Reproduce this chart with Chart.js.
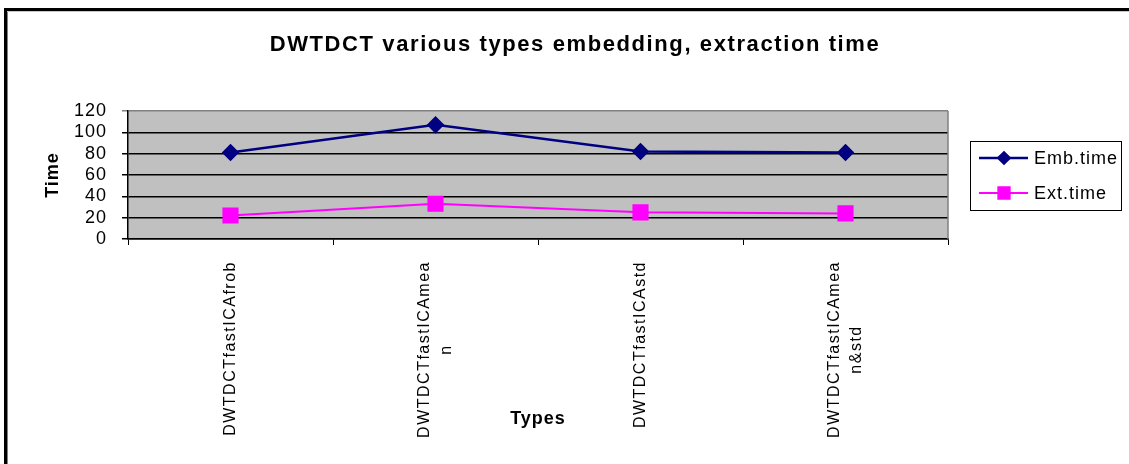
<!DOCTYPE html>
<html>
<head>
<meta charset="utf-8">
<script src="https://cdn.jsdelivr.net/npm/chart.js@4/dist/chart.umd.min.js"></script>
<style>
  html, body { margin: 0; padding: 0; background: #fff; }
  #wrap { position: relative; width: 1129px; height: 464px; }
  canvas { display: block; }
</style>
</head>
<body>
<div id="wrap"><canvas id="c" width="1129" height="464"></canvas></div>
<script>
const chartTitle = 'DWTDCT various types embedding, extraction time';
const categories = [
  ['DWTDCTfastICAfrob'],
  ['DWTDCTfastICAmea', 'n'],
  ['DWTDCTfastICAstd'],
  ['DWTDCTfastICAmea', 'n&std']
];
const embTime = [81, 107, 82, 81];
const extTime = [22, 33, 25, 24];
const yTicks = [0, 20, 40, 60, 80, 100, 120];
const seriesNames = ['Emb.time', 'Ext.time'];
const xTitle = 'Types';
const yTitle = 'Time';

const FONT = "'Liberation Sans', Arial, sans-serif";

const decorPlugin = {
  id: 'decor',
  beforeDraw(chart) {
    const ctx = chart.ctx;
    const a = chart.chartArea;
    ctx.save();
    ctx.fillStyle = '#ffffff';
    ctx.fillRect(0, 0, chart.width, chart.height);
    ctx.fillStyle = '#c0c0c0';
    ctx.fillRect(a.left, a.top, a.right - a.left, a.bottom - a.top);
    ctx.restore();
    ctx.letterSpacing = '1px';
  },
  afterDraw(chart) {
    const ctx = chart.ctx;
    const a = chart.chartArea;
    const xs = chart.scales.x;
    ctx.save();
    // right plot border
    ctx.strokeStyle = '#808080';
    ctx.lineWidth = 1.5;
    ctx.beginPath();
    ctx.moveTo(a.right, a.top);
    ctx.lineTo(a.right, a.bottom);
    ctx.stroke();

    // x tick labels (rotated, lines centered)
    ctx.fillStyle = '#000';
    ctx.font = '16px ' + FONT;
    ctx.letterSpacing = '1.5px';
    ctx.textAlign = 'center';
    ctx.textBaseline = 'middle';
    const lh = 22;
    categories.forEach((lines, i) => {
      const x = xs.getPixelForTick(i);
      let w = 0;
      lines.forEach(l => { w = Math.max(w, ctx.measureText(l).width); });
      ctx.save();
      ctx.translate(x, a.bottom + 22);
      ctx.rotate(-Math.PI / 2);
      lines.forEach((l, j) => {
        ctx.fillText(l, -w / 2, (j - (lines.length - 1) / 2) * lh);
      });
      ctx.restore();
    });

    // title
    ctx.font = 'bold 22px ' + FONT;
    ctx.letterSpacing = '1.6px';
    ctx.textAlign = 'center';
    ctx.textBaseline = 'middle';
    ctx.fillText(chartTitle, 575, 45);

    // legend
    const lx = 970, ly = 141, lw = 151, lhh = 69;
    ctx.strokeStyle = '#000';
    ctx.lineWidth = 1;
    ctx.strokeRect(lx + 0.5, ly + 0.5, lw, lhh);
    ctx.font = '18px ' + FONT;
    ctx.letterSpacing = '1px';
    ctx.textAlign = 'left';
    chart.data.datasets.forEach((ds, i) => {
      const y = ly + 17 + i * 35;
      ctx.strokeStyle = ds.borderColor;
      ctx.lineWidth = ds.borderWidth;
      ctx.beginPath();
      ctx.moveTo(979, y);
      ctx.lineTo(1028, y);
      ctx.stroke();
      ctx.fillStyle = ds.pointBackgroundColor;
      ctx.strokeStyle = ds.pointBorderColor;
      Chart.helpers.drawPoint(ctx, {
        pointStyle: ds.pointStyle,
        rotation: 0,
        radius: ds.pointRadius * 0.8,
        borderWidth: 1
      }, 1004, y);
      ctx.fillStyle = '#000';
      ctx.fillText(ds.label, 1034, y + 1);
    });

    // frame
    ctx.fillStyle = '#000';
    ctx.fillRect(4, 8, 3, chart.height - 8);
    ctx.fillRect(4, 8, chart.width - 4, 3);
    ctx.fillStyle = '#808080';
    ctx.fillRect(7, 11, 1, chart.height - 11);
    ctx.fillStyle = '#c8c8c8';
    ctx.fillRect(7, 11, chart.width - 7, 1);
    ctx.restore();
  }
};

new Chart(document.getElementById('c'), {
  type: 'line',
  data: {
    labels: categories,
    datasets: [
      {
        label: seriesNames[0],
        data: embTime,
        borderColor: '#000080',
        backgroundColor: '#000080',
        pointBackgroundColor: '#000080',
        pointBorderColor: '#000080',
        borderWidth: 2.5,
        pointStyle: 'rectRot',
        pointRadius: 7,
        pointHoverRadius: 7,
        tension: 0,
        fill: false
      },
      {
        label: seriesNames[1],
        data: extTime,
        borderColor: '#ff00ff',
        backgroundColor: '#ff00ff',
        pointBackgroundColor: '#ff00ff',
        pointBorderColor: '#ff00ff',
        borderWidth: 2,
        pointStyle: 'rect',
        pointRadius: 10,
        pointHoverRadius: 10,
        tension: 0,
        fill: false
      }
    ]
  },
  options: {
    responsive: false,
    animation: false,
    devicePixelRatio: 1,
    events: [],
    layout: { padding: { top: 111, right: 181, bottom: 0, left: 0 } },
    plugins: {
      legend: { display: false },
      title: { display: false },
      tooltip: { enabled: false }
    },
    scales: {
      x: {
        type: 'category',
        offset: true,
        grid: {
          display: true,
          offset: true,
          drawOnChartArea: false,
          drawTicks: true,
          tickLength: 6,
          color: '#000',
          lineWidth: 1
        },
        border: { display: true, color: '#000', width: 1.5 },
        ticks: { display: false },
        title: {
          display: true,
          text: xTitle,
          color: '#000',
          font: { family: FONT, size: 18, weight: 'bold', lineHeight: 1.2 },
          padding: { top: 0, bottom: 34 }
        },
        afterFit(scale) { scale.height = 225; }
      },
      y: {
        min: 0,
        max: 120,
        afterBuildTicks(scale) { scale.ticks = yTicks.map(v => ({ value: v })); },
        grid: {
          color: (c) => (c.tick && c.tick.value === 120 ? '#808080' : '#000'),
          lineWidth: 1.5,
          drawTicks: true,
          tickLength: 6
        },
        border: { display: true, color: '#000', width: 1.5 },
        ticks: {
          color: '#000',
          padding: 15,
          autoSkip: false,
          font: { family: FONT, size: 18, lineHeight: 1.0 }
        },
        title: {
          display: true,
          text: yTitle,
          color: '#000',
          font: { family: FONT, size: 18, weight: 'bold', lineHeight: 1.2 },
          padding: { top: 42, bottom: 0 }
        },
        afterFit(scale) { scale.width = 128; }
      }
    }
  },
  plugins: [decorPlugin]
});
</script>
</body>
</html>
